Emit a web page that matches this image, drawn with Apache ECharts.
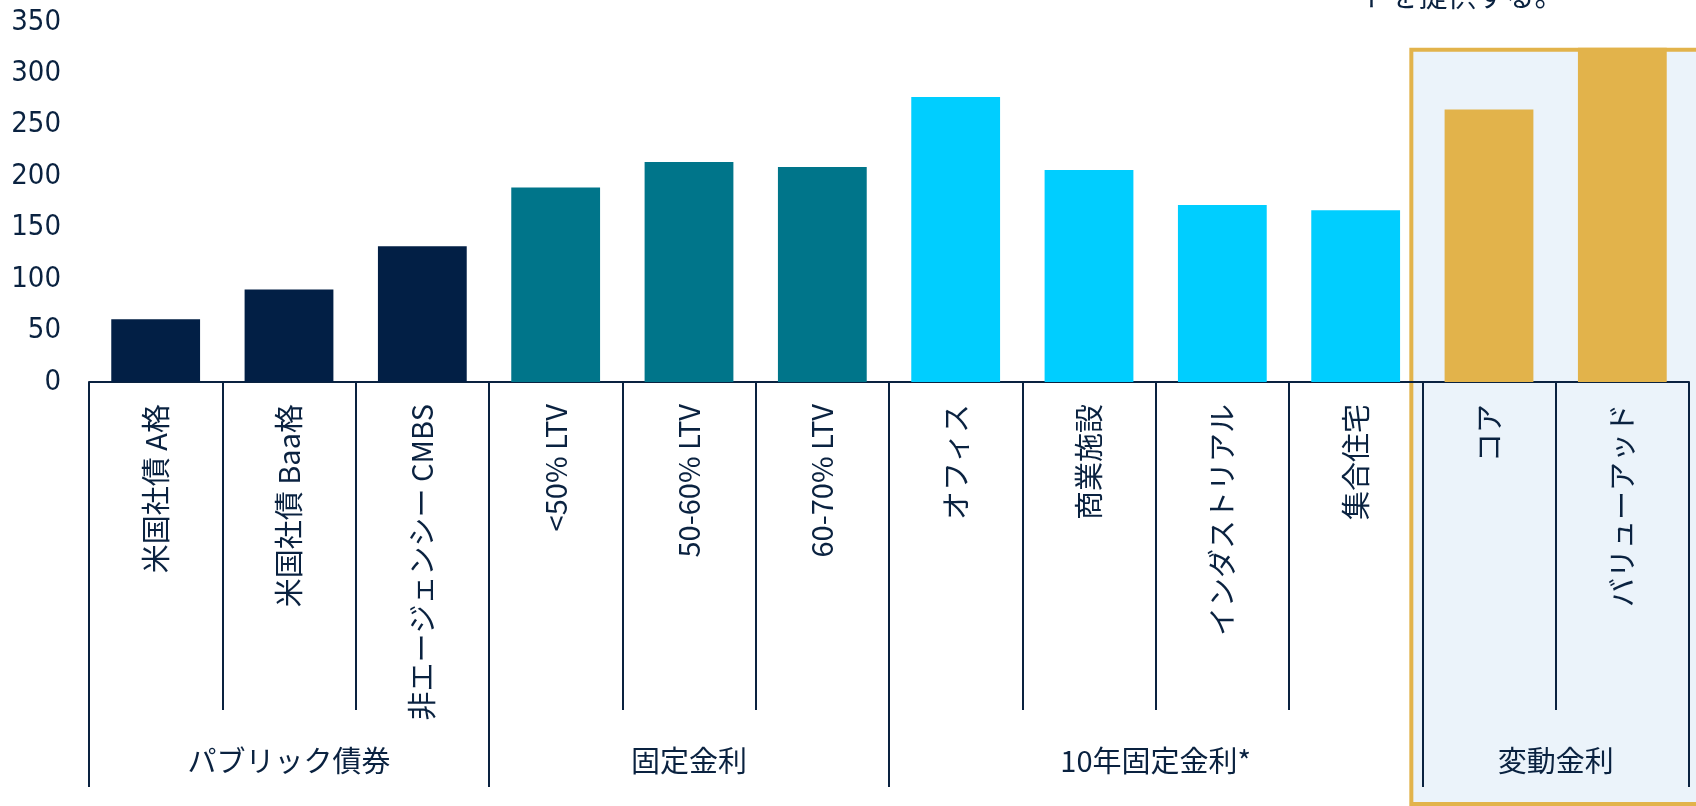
<!DOCTYPE html>
<html>
<head>
<meta charset="utf-8">
<script src="https://cdn.jsdelivr.net/npm/echarts@6/dist/echarts.min.js"></script>
<style>
  html, body { margin: 0; padding: 0; background: #ffffff; }
  #chart { width: 1696px; height: 806px; }
</style>
</head>
<body>
<div id="chart"></div>
<script>
// Spread by sector (bp)
const categories = [
  '米国社債 A格', '米国社債 Baa格', '非エージェンシー CMBS',
  '<50% LTV', '50-60% LTV', '60-70% LTV',
  'オフィス', '商業施設', 'インダストリアル', '集合住宅',
  'コア', 'バリューアッド'
];
const spreadValues = [61, 90, 132, 189, 214, 209, 277, 206, 172, 167, 265, 325];

// Category groups shown on the second label row
const groupNames = ['パブリック債券', '固定金利', '10年固定金利*', '変動金利'];
const groupSizes = [3, 3, 4, 2];

// Value axis ticks
const yMin = 0;
const yMax = 350;
const yStep = 50;

// Tail of the heading text above the chart
const headNote = 'トを提供する。';

// ---- styling ----
const NAVY = '#0a2240';
const groupColors = ['#021f45', '#00758a', '#00ceff', '#e2b34b'];
const highlightGroup = 3;
const CJK = "'Noto Sans CJK JP', 'Noto Sans', sans-serif";
const NARROW = "'Liberation Sans Narrow', 'DejaVu Sans Condensed', 'Liberation Sans', sans-serif";

// group index of each category and group boundaries on the 0..N scale
const groupOf = [];
const bounds = [0];
groupSizes.forEach((n, g) => {
  for (let i = 0; i < n; i++) groupOf.push(g);
  bounds.push(bounds[bounds.length - 1] + n);
});
const mids = groupNames.map((_, g) => (bounds[g] + bounds[g + 1]) / 2);

const chart = echarts.init(document.getElementById('chart'), null, { renderer: 'canvas' });

chart.setOption({
  animation: false,
  backgroundColor: '#ffffff',
  grid: { left: 89, right: 7, top: 22, bottom: 424, containLabel: false },
  xAxis: [
    {
      type: 'category',
      data: categories,
      boundaryGap: true,
      position: 'bottom',
      axisLine: { show: true, lineStyle: { color: NAVY, width: 2 } },
      axisTick: { show: true, interval: 0, length: 328, lineStyle: { color: NAVY, width: 2 } },
      axisLabel: {
        interval: 0,
        rotate: 90,
        margin: 22,
        color: NAVY,
        fontFamily: CJK,
        fontSize: 29
      },
      splitLine: { show: false }
    },
    {
      type: 'value',
      min: 0,
      max: categories.length,
      position: 'bottom',
      axisLine: { show: false },
      axisTick: {
        show: true,
        customValues: bounds,
        length: 405,
        lineStyle: { color: NAVY, width: 2 }
      },
      axisLabel: {
        show: true,
        customValues: mids,
        margin: 364,
        color: NAVY,
        fontFamily: CJK,
        fontSize: 29,
        formatter: (v) => {
          const i = mids.findIndex(m => Math.abs(m - v) < 1e-6);
          return i >= 0 ? groupNames[i] : '';
        }
      },
      splitLine: { show: false }
    }
  ],
  yAxis: {
    type: 'value',
    min: yMin,
    max: yMax,
    interval: yStep,
    axisLine: { show: false },
    axisTick: { show: false },
    splitLine: { show: false },
    axisLabel: {
      margin: 28,
      color: NAVY,
      fontFamily: NARROW,
      fontSize: 29
    }
  },
  series: [
    {
      type: 'bar',
      xAxisIndex: 0,
      yAxisIndex: 0,
      barCategoryGap: '33.4%',
      data: spreadValues.map((v, i) => ({
        value: v,
        itemStyle: { color: groupColors[groupOf[i]] }
      })),
      z: 3
    }
  ]
});

// Framed panel behind the floating-rate group, placed from the axes' own scales
const gStart = bounds[highlightGroup];
const gEnd = bounds[highlightGroup + 1];
const panelLeft = chart.convertToPixel({ xAxisIndex: 1 }, gStart) - 11;
const panelTopValue = Math.max(...spreadValues.slice(gStart, gEnd));
const panelTop = chart.convertToPixel({ yAxisIndex: 0 }, panelTopValue);
const H = chart.getHeight();
const W = chart.getWidth();

chart.setOption({
  graphic: [
    {
      type: 'rect',
      z: -10,
      silent: true,
      shape: { x: panelLeft, y: panelTop + 2, width: W - panelLeft + 20, height: H - panelTop - 4 },
      style: { fill: '#ebf3fa', stroke: '#e2b34b', lineWidth: 4 }
    },
    {
      type: 'text',
      silent: true,
      style: {
        text: headNote,
        x: 1462,
        y: 10,
        textAlign: 'center',
        textVerticalAlign: 'bottom',
        fill: NAVY,
        font: "29px 'Noto Sans CJK JP', sans-serif"
      }
    }
  ]
});
</script>
</body>
</html>
